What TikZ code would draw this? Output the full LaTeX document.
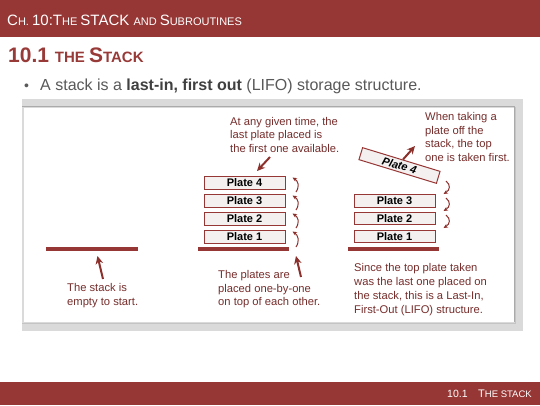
\documentclass[tikz,border=0pt]{standalone}
\usepackage{fontspec}
\setmainfont{Liberation Sans}
\usetikzlibrary{arrows.meta}
\definecolor{barred}{RGB}{150,55,53}
\definecolor{headred}{RGB}{152,58,56}
\definecolor{annot}{RGB}{118,46,44}
\definecolor{arrred}{RGB}{140,48,44}
\definecolor{bodygray}{RGB}{89,89,89}
\definecolor{platefill}{RGB}{244,240,240}
\definecolor{framegray}{RGB}{218,218,218}
\definecolor{frameline}{RGB}{170,170,170}
\newcommand{\fsz}[1]{\fontsize{#1}{#1}\selectfont}
\begin{document}
\begin{tikzpicture}[x=1pt,y=-1pt,
  plate/.style={draw=barred, line width=1pt, fill=platefill, minimum width=81pt,
    minimum height=12.5pt, inner sep=0pt, font=\fsz{11}\bfseries, text=black},
  basebar/.style={draw=barred, line width=4pt},
  note/.style={inner sep=0pt, anchor=north west, align=left, text=annot,
    font=\fontsize{11.2}{13.5}\selectfont},
  bigarrow/.style={draw=arrred, line width=2pt, -{Stealth[length=8pt,width=7.5pt]}},
  curvarrow/.style={draw=arrred, line width=1pt, -{Stealth[length=4.5pt,width=4pt]}}
]
\useasboundingbox (0,0) rectangle (540,405);
\fill[white] (0,0) rectangle (540,405);
% title bar
\fill[barred] (0,0) rectangle (540,37);
\node[anchor=base west, inner sep=0pt, text=white] (title) at (7,25)
  {\fsz{15}C\fsz{11}H. \fsz{15}10:T\fsz{11}HE \fsz{15}STACK \fsz{11}AND \fsz{15}S\fsz{11}UBROUTINES};
% heading
\node[anchor=base west, inner sep=0pt, text=headred, font=\bfseries] (head) at (8,62.5)
  {\fsz{21}10.1 \fsz{15}THE \fsz{21}S\fsz{15}TACK};
% bullet
\node[anchor=base west, inner sep=0pt, text=bodygray, font=\fsz{14}] (bul) at (24,90) {•};
\node[anchor=base west, inner sep=0pt, text=bodygray, font=\fsz{16}] (btxt) at (40,90)
  {A stack is a \textbf{\color{black!75}last-in, first out} (LIFO) storage structure.};
% frame
\fill[framegray] (22,99) rectangle (523,331);
\fill[white] (24,108) rectangle (514,322);
\draw[frameline, line width=0.8pt] (22,106.5) -- (514,106.5) -- (514,322);
\draw[frameline!70, line width=0.6pt] (22,323) -- (515,323) -- (515,107);
% footer
\fill[barred] (0,382) rectangle (540,405);
\node[anchor=base west, inner sep=0pt, text=white, font=\fsz{10.5}] (foot1) at (447,397) {10.1};
\node[anchor=base west, inner sep=0pt, text=white] (foot2) at (478,397) {\fsz{11}T\fsz{9.5}HE STACK};
% ---- left: empty stack
\draw[basebar] (46,248.7) -- (138,248.7);
\coordinate (la1) at (103,279);
\coordinate (la2) at (97.5,256);
\draw[bigarrow] (la1) -- (la2);
\node[note] (lt) at (67,283.3) {The stack is\\empty to start.};
% ---- middle: pushing
\draw[basebar] (198,248.7) -- (289,248.7);
\node[plate] (m1) at (244.5,237) {Plate 1};
\node[plate] (m2) at (244.5,218.8) {Plate 2};
\node[plate] (m3) at (244.5,200.8) {Plate 3};
\node[plate] (m4) at (244.5,183) {Plate 4};
\draw[curvarrow] (296,247) .. controls (300,241) and (298,235) .. (292.5,231.5);
\draw[curvarrow] (296,228) .. controls (300,222) and (298,217) .. (292.5,213.5);
\draw[curvarrow] (296,210) .. controls (300,204) and (298,199) .. (292.5,195.5);
\draw[curvarrow] (296,192) .. controls (300,186) and (298,181) .. (292.5,177.5);
\node[note] (mt) at (230,116.8) {At any given time, the\\last plate placed is\\the first one available.};
\coordinate (ma1) at (270,157);
\coordinate (ma2) at (257,171);
\draw[bigarrow] (ma1) -- (ma2);
\coordinate (mb1) at (301,277);
\coordinate (mb2) at (296,256);
\draw[bigarrow] (mb1) -- (mb2);
\node[note] (mbt) at (218,270.3) {The plates are\\placed one-by-one\\on top of each other.};
% ---- right: popping
\draw[basebar] (348,248.7) -- (439,248.7);
\node[plate] (r1) at (394.5,236.7) {Plate 1};
\node[plate] (r2) at (394.5,218.5) {Plate 2};
\node[plate] (r3) at (394.5,200.8) {Plate 3};
\node[plate, rotate=-17, font=\fsz{11}\bfseries\itshape] (r4) at (399.5,165.5) {Plate 4};
\coordinate (ra1) at (403,159.5);
\coordinate (ra2) at (415,146);
\draw[bigarrow] (ra1) -- (ra2);
\draw[curvarrow] (446,181) .. controls (451,185) and (450,190) .. (443.5,194);
\draw[curvarrow] (446,198) .. controls (451,202) and (450,207) .. (443.5,211);
\draw[curvarrow] (446,215) .. controls (451,219) and (450,224) .. (443.5,228);
\node[note] (rt) at (425,112.3) {When taking a\\plate off the\\stack, the top\\one is taken first.};
\node[note, font=\fontsize{11.2}{14}\selectfont] (rbt) at (354,263.3)
  {Since the top plate taken\\was the last one placed on\\the stack, this is a Last-In,\\First-Out (LIFO) structure.};
\end{tikzpicture}
\end{document}
